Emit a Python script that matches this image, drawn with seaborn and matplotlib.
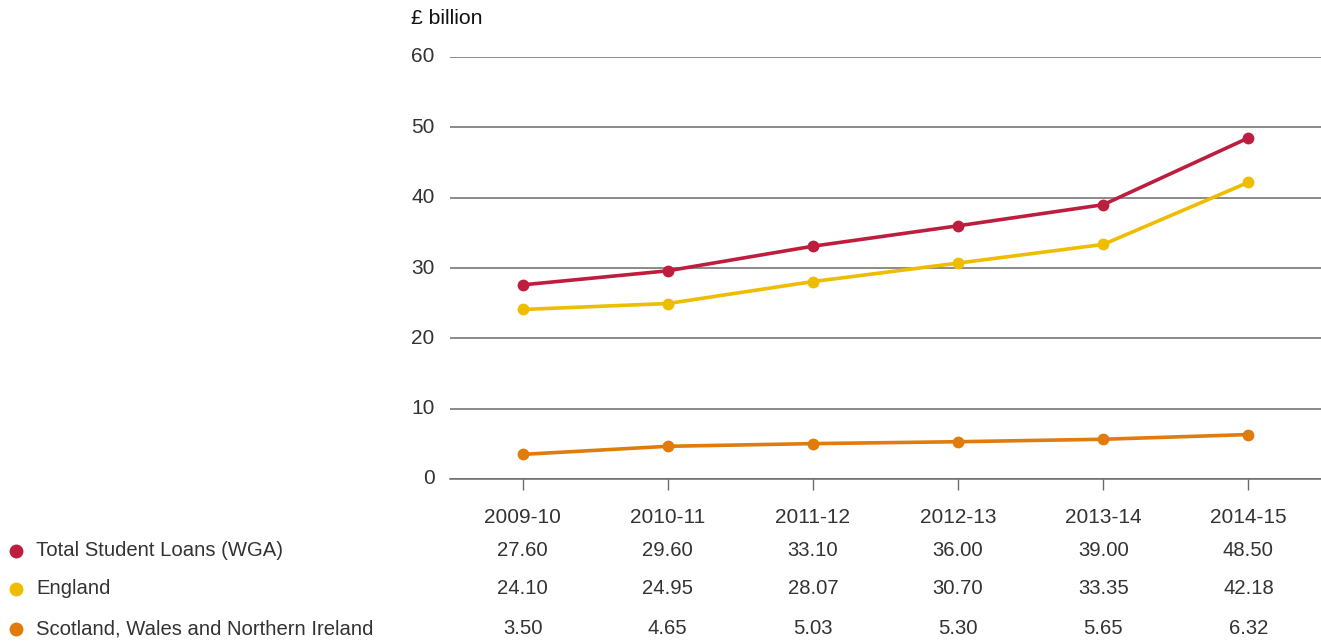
import matplotlib
matplotlib.use("Agg")
import matplotlib.pyplot as plt
import matplotlib.transforms as mtransforms
import seaborn as sns
import pandas as pd

years = ["2009-10", "2010-11", "2011-12", "2012-13", "2013-14", "2014-15"]
total_loans = [27.60, 29.60, 33.10, 36.00, 39.00, 48.50]
england = [24.10, 24.95, 28.07, 30.70, 33.35, 42.18]
swni = [3.50, 4.65, 5.03, 5.30, 5.65, 6.32]
series_names = ["Total Student Loans (WGA)", "England", "Scotland, Wales and Northern Ireland"]
series_values = [total_loans, england, swni]
colors = ["#BE1E3D", "#EEBD00", "#E07B0C"]

sns.set_style("white")
plt.rcParams["font.family"] = ["Liberation Sans", "DejaVu Sans"]
text_color = "#333333"

rows = []
for name, vals in zip(series_names, series_values):
    for i, (yr, v) in enumerate(zip(years, vals)):
        rows.append({"pos": i, "year": yr, "value": v, "series": name})
df = pd.DataFrame(rows)

fig = plt.figure(figsize=(13.21, 6.41), dpi=100)
ax = fig.add_axes([450 / 1321, 1 - 479 / 641, 1 - 450 / 1321, (479 - 57) / 641])

sns.lineplot(data=df, x="pos", y="value", hue="series", hue_order=series_names,
             palette=colors, marker="o", markersize=8.5, markeredgewidth=0,
             linewidth=2.6, legend=False, ax=ax, zorder=3)

ax.set_xlim(-0.5, 5.5)
ax.set_ylim(0, 60)
ax.set_yticks(range(0, 61, 10))
ax.set_xticks(range(len(years)))
ax.set_xticklabels(years)
ax.set_xlabel("")
ax.set_ylabel("")
ax.grid(axis="y", color="#6b6b6b", linewidth=1.1)
ax.grid(axis="x", visible=False)
for side in ["top", "right", "left"]:
    ax.spines[side].set_visible(False)
ax.spines["bottom"].set_color("#6b6b6b")
ax.spines["bottom"].set_linewidth(1.1)
ax.tick_params(axis="y", length=0, pad=11, labelsize=15, labelcolor=text_color)
ax.tick_params(axis="x", length=8, width=1, color="#6b6b6b", direction="out",
               pad=13, labelsize=15, labelcolor=text_color, bottom=True)
for lbl in ax.get_yticklabels():
    lbl.set_verticalalignment("center")

fig.text(411 / 1321, 1 - 19 / 641, "£ billion", fontsize=15.3, color="#111111",
         ha="left", va="center")

# data table below the chart
trans = mtransforms.blended_transform_factory(ax.transData, fig.transFigure)
row_y = [551, 589, 629]
for name, vals, col, yp in zip(series_names, series_values, colors, row_y):
    fy = 1 - yp / 641
    fig.text(36 / 1321, fy, name, fontsize=14.6, color=text_color, ha="left", va="center")
    fig.add_artist(plt.Line2D([16 / 1321], [fy], marker="o", markersize=10,
                              markeredgewidth=0, color=col, transform=fig.transFigure))
    for i, v in enumerate(vals):
        ax.text(i, fy, f"{v:.2f}", fontsize=14.6, color=text_color, ha="center",
                va="center", transform=trans, clip_on=False)

fig.savefig("out.png", dpi=100)
